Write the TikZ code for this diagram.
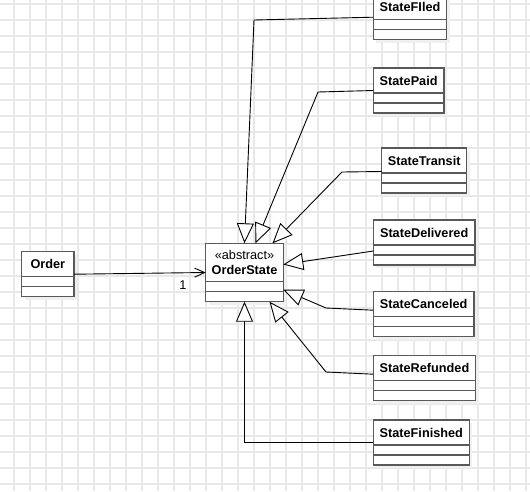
\documentclass[tikz,border=0pt]{standalone}
\usepackage{fontspec}
\setmainfont{Liberation Sans}
\usepackage{tikz}
\usetikzlibrary{arrows.meta}

\begin{document}
\begin{tikzpicture}[x=1pt, y=-1pt,
    gridline/.style={draw=black!9, line width=1.1pt},
    boxshade/.style={fill=black!6},
    cls/.style={draw=black!65, line width=1.3pt, fill=white, anchor=north west,
                inner sep=0pt, outer sep=0pt, minimum height=25pt,
                font=\bfseries\fontsize{12.7}{15}\selectfont},
    row/.style={draw=black!65, line width=1.3pt, fill=white, anchor=north,
                inner sep=0pt, outer sep=0pt, minimum height=10pt},
    gen/.style={line width=0.9pt, -{Triangle[fill=white, length=20pt, width=17pt]}},
    assoc/.style={line width=0.9pt, -{Straight Barb[length=10pt, width=9pt]}}]

       \useasboundingbox [fill=white] (0,0) rectangle (530,491);

       % background grid
       \foreach \gx in {14,30,...,526}
           \draw [gridline] (\gx,0) -- (\gx,491);
       \foreach \gy in {4,20,...,484}
           \draw [gridline] (0,\gy) -- (530,\gy);

       % the states
       \foreach \n/\t/\x/\y/\w in {filed/StateFIled/373.3/-5.3/73.4,
                                   paid/StatePaid/373.3/68/70.7,
                                   transit/StateTransit/381.7/148/85,
                                   delivered/StateDelivered/373.3/220/101.7,
                                   canceled/StateCanceled/373.3/291.7/100.7,
                                   refunded/StateRefunded/373.3/355.7/102.4,
                                   finished/StateFinished/373.3/420/96}
       {
        \fill [boxshade]              (\x+3,\y+3) rectangle +(\w,45);
        \node [cls, minimum width=\w pt]  (\n)  at (\x,\y) {\t};
        \node [row, minimum width=\w pt]  (\n1) at (\n.south) {};
        \node [row, minimum width=\w pt]  (\n2) at (\n1.south) {};
       }

       % Order and the abstract state
        \fill [boxshade]              (24.7,254.7) rectangle +(52.3,45);
        \node [cls, minimum width=52.3pt]  (order)  at (21.7,251.7) {Order};
        \node [row, minimum width=52.3pt]  (order1) at (order.south) {};
        \node [row, minimum width=52.3pt]  (order2) at (order1.south) {};

        \fill [boxshade]              (208.7,246.3) rectangle +(77.6,58.4);
        \node [cls, minimum width=77.6pt, minimum height=38.4pt, align=center]
              (ostate) at (205.7,243.3) {{\mdseries «abstract»}\\OrderState};
        \node [row, minimum width=77.6pt]  (ostate1) at (ostate.south) {};
        \node [row, minimum width=77.6pt]  (ostate2) at (ostate1.south) {};

       % bends
        \coordinate (kfiled)    at (254,20);
        \coordinate (kpaid)     at (318,92);
        \coordinate (ktransit)  at (342,172);
        \coordinate (kcanceled) at (326,308);
        \coordinate (krefunded) at (326,372);

       % generalisations
        \draw [gen]   ([yshift=-10pt]filed.west)     -- (kfiled)    -- (ostate.north);
        \draw [gen]   ([yshift=-10pt]paid.west)      -- (kpaid)     -- ([xshift=11pt]ostate.north);
        \draw [gen]   ([yshift=-11pt]transit.west)   -- (ktransit)  -- ([xshift=28pt]ostate.north);
        \draw [gen]   ([yshift=-18.5pt]delivered.west)                -- ([yshift=-2pt]ostate.east);
        \draw [gen]   ([yshift=-6pt]canceled.west)   -- (kcanceled) -- ([yshift=-3pt]ostate1.east);
        \draw [gen]   ([yshift=-6pt]refunded.west)   -- (krefunded) -- ([xshift=25pt]ostate2.south);
        \draw [gen]   ([yshift=-10pt]finished.west)  -|  (ostate2.south);

       % association
        \draw [assoc] ([yshift=-10pt]order.east) -- ([yshift=-10pt]ostate.west);
        \node [font=\fontsize{12.7}{15}\selectfont] (mult) at (183,285) {1};

     \end{tikzpicture}
\end{document}
